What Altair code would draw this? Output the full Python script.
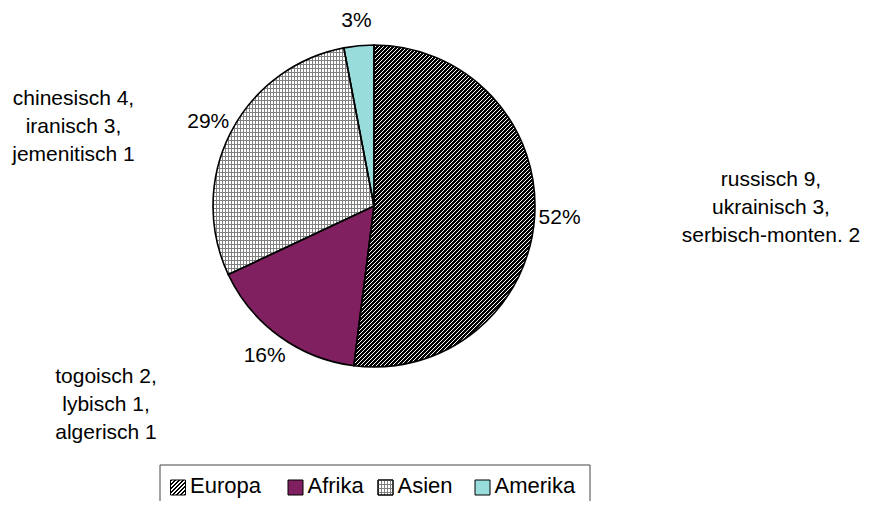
import math
import altair as alt
import pandas as pd

# ---------------- data ----------------
regions = ["Europa", "Afrika", "Asien", "Amerika"]
shares = [52, 16, 29, 3]
notes_europa = ["russisch 9,", "ukrainisch 3,", "serbisch-monten. 2"]
notes_afrika = ["togoisch 2,", "lybisch 1,", "algerisch 1"]
notes_asien = ["chinesisch 4,", "iranisch 3,", "jemenitisch 1"]

df = pd.DataFrame({"region": regions, "share": shares, "idx": list(range(len(regions)))})

# ---------------- styles ----------------
FONT = "Liberation Sans"
AFRIKA = "#802060"
AMERIKA = "#99DCDC"
GRID = "#808080"
CLEAR = "rgba(255,255,255,0)"
CX, CY, R = 366, 198, 161


def sharp(n, dark, light, frac, x2, y2):
    stops = []
    for i in range(n):
        a, b, c = i / n, (i + frac) / n, (i + 1) / n
        stops += [
            {"offset": round(a, 6), "color": dark},
            {"offset": round(b, 6), "color": dark},
            {"offset": round(b, 6), "color": light},
            {"offset": round(min(c, 1.0), 6), "color": light},
        ]
    return {"gradient": "linear", "x1": 0, "y1": 0, "x2": x2, "y2": y2, "stops": stops}


def diag(n, period, w, h, dark, light, frac):
    # "/" hatch with a period (in x+y pixel units) for a w x h bounding box
    k = n * period / (w * w + h * h)
    return sharp(n, dark, light, frac, round(k * w, 6), round(k * h, 6))


# pie bounding boxes (derived from the slice angles, pattern geometry only)
a_eu = 2 * math.pi * 0.52
W_EU, H_EU = R + R * abs(math.sin(a_eu)), 2 * R
a1, a2 = 2 * math.pi * 0.68, 2 * math.pi * 0.97
W_AS = R
H_AS = R * math.cos(a2) - R * math.cos(a1)

eu_pie = diag(126, 4, W_EU, H_EU, "#000000", "#ffffff", 0.62)
as_pie_v = sharp(54, GRID, "#ffffff", 1 / 3, round(54 * 3 / W_AS, 6), 0)
as_pie_h = sharp(57, GRID, CLEAR, 1 / 4, 0, round(57 * 4 / H_AS, 6))
# legend swatches (15 x 15)
eu_leg = diag(8, 4, 15, 15, "#000000", "#ffffff", 0.62)
as_leg_v = sharp(5, GRID, "#ffffff", 1 / 3, 1, 0)
as_leg_h = sharp(4, GRID, CLEAR, 1 / 4, 0, round(16 / 15, 6))


def base_fill(eu, asv):
    return alt.value(AMERIKA, condition=[
        {"test": "datum.region === 'Europa'", "value": eu},
        {"test": "datum.region === 'Afrika'", "value": AFRIKA},
        {"test": "datum.region === 'Asien'", "value": asv},
    ])


def overlay_fill(ash):
    return alt.value(CLEAR, condition=[{"test": "datum.region === 'Asien'", "value": ash}])


theta = alt.Theta("share:Q", stack=True)
order = alt.Order("idx:Q")

pie_fill = alt.Chart(df).mark_arc(outerRadius=R, strokeWidth=0).encode(
    theta=theta, order=order, detail="region:N",
    fill=base_fill(eu_pie, as_pie_v),
    x=alt.value(CX), y=alt.value(CY),
)
pie_top = alt.Chart(df).mark_arc(outerRadius=R, stroke="black", strokeWidth=1.6).encode(
    theta=theta, order=order, detail="region:N",
    fill=overlay_fill(as_pie_h),
    x=alt.value(CX), y=alt.value(CY),
)

pct = alt.Chart(df).transform_calculate(label="datum.share + '%'").mark_text(
    radius=186, font=FONT, fontSize=21, color="black", align="center", baseline="middle"
).encode(
    theta=theta, order=order, detail="region:N", text="label:N",
    x=alt.value(CX), y=alt.value(CY),
)

one = pd.DataFrame({"k": [0]})


def note(lines, x, y):
    return alt.Chart(one).mark_text(
        text=lines, font=FONT, fontSize=21, lineHeight=28, color="black",
        align="center", baseline="middle"
    ).encode(x=alt.value(x), y=alt.value(y))


notes = [
    note(notes_europa, 763, 172),
    note(notes_asien, 65.5, 91),
    note(notes_afrika, 98, 369),
]

# ---------------- legend ----------------
legend_box = alt.Chart(one).mark_rect(fill="white", stroke="#444444", strokeWidth=1).encode(
    x=alt.value(152), x2=alt.value(582), y=alt.value(457), y2=alt.value(503)
)
legend_x = [170, 287.5, 377.5, 474.5]
LY = 479.5
legend_layers = [legend_box]
for i, r in enumerate(regions):
    d = df[df["region"] == r]
    legend_layers.append(
        alt.Chart(d).mark_square(size=225, stroke="black", strokeWidth=1, opacity=1).encode(
            x=alt.value(legend_x[i]), y=alt.value(LY), fill=base_fill(eu_leg, as_leg_v)
        )
    )
    if r == "Asien":
        legend_layers.append(
            alt.Chart(d).mark_square(size=225, stroke="black", strokeWidth=1, opacity=1).encode(
                x=alt.value(legend_x[i]), y=alt.value(LY), fill=overlay_fill(as_leg_h)
            )
        )
    legend_layers.append(
        alt.Chart(d).mark_text(font=FONT, fontSize=22, color="black", align="left",
                               baseline="middle", dx=12).encode(
            x=alt.value(legend_x[i]), y=alt.value(LY - 2), text="region:N"
        )
    )

chart = alt.layer(pie_fill, pie_top, pct, *notes, *legend_layers).properties(
    width=856, height=493, padding=0, autosize=alt.AutoSizeParams(type="none")
).configure_view(stroke=None)

chart.save("out.html", embed_options={"renderer": "svg", "actions": False})
